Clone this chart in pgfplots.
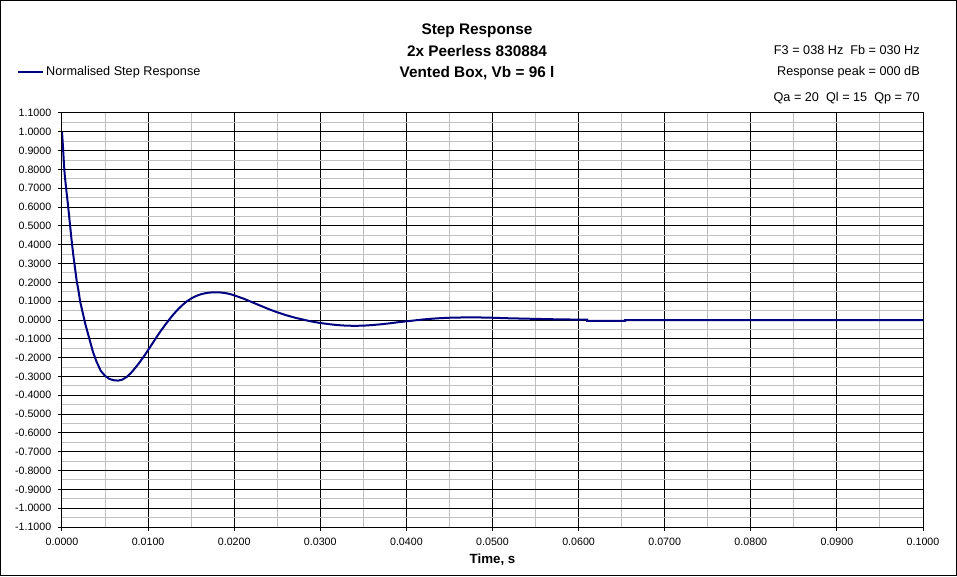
\documentclass[border=0pt]{standalone}
\usepackage{pgfplots}
\pgfplotsset{compat=1.18}
\usepackage{fontspec}
\setmainfont{Liberation Sans}
\definecolor{navyline}{RGB}{0,0,128}
\definecolor{gridgray}{RGB}{192,192,192}
\begin{document}
\begin{tikzpicture}
\begin{axis}[
  at={(0,0)}, anchor=south west,
  width=645.75pt, height=310.5pt, scale only axis,
  xmin=0, xmax=0.1, ymin=-1.1, ymax=1.1,
  xtick={0,0.01,0.02,0.03,0.04,0.05,0.06,0.07,0.08,0.09,0.1},
  xticklabels={0.0000,0.0100,0.0200,0.0300,0.0400,0.0500,0.0600,0.0700,0.0800,0.0900,0.1000},
  ytick={-1.1,-1.0,-0.9,-0.8,-0.7,-0.6,-0.5,-0.4,-0.3,-0.2,-0.1,0,0.1,0.2,0.3,0.4,0.5,0.6,0.7,0.8,0.9,1.0,1.1},
  yticklabels={-1.1000,-1.0000,-0.9000,-0.8000,-0.7000,-0.6000,-0.5000,-0.4000,-0.3000,-0.2000,-0.1000,0.0000,0.1000,0.2000,0.3000,0.4000,0.5000,0.6000,0.7000,0.8000,0.9000,1.0000,1.1000},
  minor x tick num=1, minor y tick num=1,
  grid=both,
  major grid style={black, line width=0.75pt},
  minor grid style={gridgray, line width=0.75pt},
  axis line style={black, line width=0.75pt},
  tick align=outside,
  major tick length=3pt, minor tick length=0pt,
  tick style={black, line width=0.75pt},
  xtick pos=bottom, ytick pos=left,
  ticklabel style={font=\fontsize{8}{9}\selectfont},
  xticklabel style={yshift=-1.5pt},
  yticklabel style={xshift=-1.5pt},
  xlabel={\textbf{Time, s}},
  xlabel style={font=\fontsize{10}{12}\selectfont, at={(axis description cs:0.5,0)}, anchor=base, yshift=-27.2pt},
  legend style={at={(axis description cs:-0.0523,1.099)}, anchor=west, draw=none, fill=none,
    font=\fontsize{9.5}{11}\selectfont, inner sep=0pt, nodes={inner sep=0.5pt},
    /tikz/every odd column/.append style={column sep=1pt}},
  legend image code/.code={\draw[#1] (0pt,0pt) -- (18.75pt,0pt);},
]
\addplot[navyline, line width=1.5pt] coordinates {
(0.0000,1.000) (0.0001,0.93) (0.0002,0.85) (0.0003,0.78) (0.0005,0.69)
(0.0007,0.61) (0.0009,0.52) (0.0011,0.43) (0.0013,0.35) (0.0015,0.28)
(0.0017,0.21) (0.0019,0.16) (0.0021,0.10) (0.0023,0.06) (0.0025,0.02)
(0.0027,-0.02) (0.0030,-0.07) (0.0033,-0.12) (0.0036,-0.17) (0.0040,-0.22)
(0.0045,-0.27) (0.0050,-0.297) (0.0055,-0.313) (0.0060,-0.320) (0.0065,-0.322)
(0.0070,-0.317) (0.0075,-0.303) (0.0080,-0.282) (0.0085,-0.255) (0.0090,-0.226)
(0.0095,-0.194) (0.0100,-0.160) (0.0105,-0.125) (0.0110,-0.090) (0.0115,-0.056)
(0.0120,-0.025) (0.0125,0.005) (0.0130,0.033) (0.0135,0.058) (0.0140,0.080)
(0.0145,0.099) (0.0150,0.114) (0.0155,0.126) (0.0160,0.135) (0.0165,0.141)
(0.0170,0.145) (0.0175,0.147) (0.0180,0.147) (0.0185,0.146) (0.0190,0.143)
(0.0195,0.138) (0.0200,0.131) (0.0210,0.115) (0.0220,0.096) (0.0230,0.077)
(0.0240,0.058) (0.0250,0.041) (0.0260,0.026) (0.0270,0.013) (0.0280,0.002)
(0.0290,-0.008) (0.0300,-0.016) (0.0310,-0.022) (0.0320,-0.027) (0.0330,-0.030)
(0.0340,-0.031) (0.0350,-0.030) (0.0360,-0.027) (0.0370,-0.023) (0.0380,-0.018)
(0.0390,-0.012) (0.0400,-0.007) (0.0410,-0.002) (0.0420,0.003) (0.0430,0.007)
(0.0440,0.010) (0.0450,0.012) (0.0460,0.013) (0.0470,0.014) (0.0480,0.014)
(0.0490,0.013) (0.0500,0.012) (0.0520,0.009) (0.0540,0.007) (0.0560,0.005)
(0.0580,0.003) (0.0610,0.002) (0.0610,-0.004) (0.0654,-0.004) (0.0654,0.000)
(0.0700,0.000) (0.0800,0.000) (0.0900,0.000) (0.1000,0.000)
};
\addlegendentry{Normalised Step Response}
\end{axis}
% titles
\node[anchor=base, font=\fontsize{11.5}{13}\selectfont\bfseries] at (311.25pt,369.5pt) {Step Response};
\node[anchor=base, font=\fontsize{11.5}{13}\selectfont\bfseries] at (311.25pt,353pt) {2x Peerless 830884};
\node[anchor=base, font=\fontsize{11.5}{13}\selectfont\bfseries] at (311.25pt,336.75pt) {Vented Box, Vb = 96 l};
\node[anchor=base east, inner sep=0pt, font=\fontsize{9.5}{11}\selectfont] at (643.5pt,354pt) {F3 = 038 Hz\ \ Fb = 030 Hz};
\node[anchor=base east, inner sep=0pt, font=\fontsize{9.5}{11}\selectfont] at (643.5pt,338.25pt) {Response peak = 000 dB};
\node[anchor=base east, inner sep=0pt, font=\fontsize{9.5}{11}\selectfont] at (643.5pt,319pt) {Qa = 20\ \ Ql = 15\ \ Qp = 70};
% outer frame
\draw[black, line width=0.75pt] (-46.125pt,-36.375pt) rectangle (670.875pt,394.875pt);
\end{tikzpicture}
\end{document}
